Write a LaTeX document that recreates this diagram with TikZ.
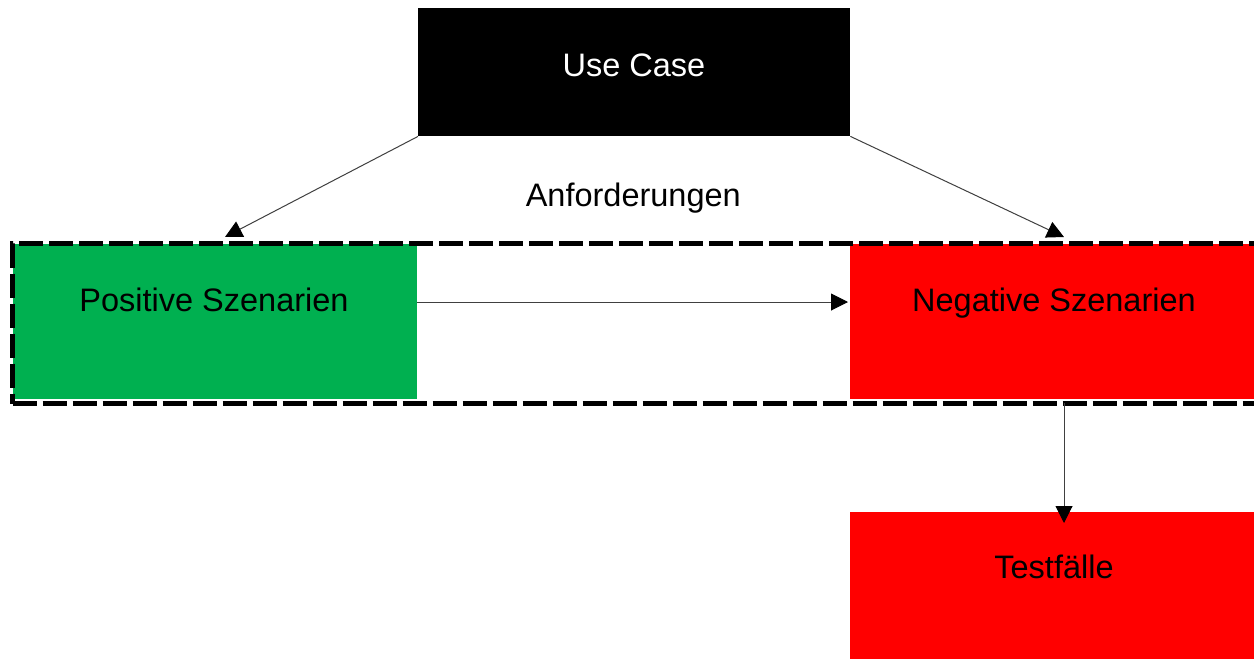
\documentclass[tikz,border=0pt]{standalone}
\usepackage{fontspec}
\setmainfont{Liberation Sans}
\usetikzlibrary{arrows.meta,calc}
\definecolor{okgreen}{HTML}{00B050}
\definecolor{okred}{HTML}{FF0000}
\begin{document}
\begin{tikzpicture}[x=1pt,y=-1pt,
  box/.style={draw=none,inner sep=0pt,anchor=north west},
  txt/.style={font=\fontsize{32.5}{39}\selectfont,inner sep=0pt,anchor=base},
  arr/.style={draw=black!75,line width=1pt,-{Triangle[length=17pt,width=17pt,color=black]}},
  frame/.style={draw=black,line width=5pt,dash pattern=on 24pt off 6pt,inner sep=0pt,anchor=north west}]
\useasboundingbox (0,0) rectangle (1254,659);
\clip (0,0) rectangle (1254,659);
\fill[white] (0,0) rectangle (1254,659);
% boxes
\node[box,fill=black,minimum width=432pt,minimum height=128pt] (uc) at (418,8) {};
\node[box,fill=okgreen,minimum width=404pt,minimum height=155pt] (pos) at (13,244) {};
\node[box,fill=okred,minimum width=420pt,minimum height=155pt] (neg) at (850,244) {};
\node[box,fill=okred,minimum width=420pt,minimum height=160pt] (tf) at (850,512) {};
% dashed frame
\node[frame,minimum width=1270pt,minimum height=160pt] (fr) at (10,241) {};
% texts
\node[txt,text=white] (uct) at (634,76.7) {Use Case};
\node[txt] (anf) at (633.3,206.7) {Anforderungen};
\node[txt] (post) at (214,311.7) {Positive Szenarien};
\node[txt] (negt) at (1054,311.7) {Negative Szenarien};
\node[txt] (tft) at (1054,578.3) {Testfälle};
% arrow ends
\coordinate (e1) at (225,237);
\coordinate (e2) at (1064,237);
\coordinate (v1) at (1064,403);
\coordinate (v2) at (1064,523);
\coordinate (h2) at (848,302);
% connectors
\draw[arr] (uc.south west) -- (e1);
\draw[arr] (uc.south east) -- (e2);
\draw[arr] (pos.east |- h2) -- (h2);
\draw[arr] (v1) -- (v2);
\end{tikzpicture}
\end{document}
